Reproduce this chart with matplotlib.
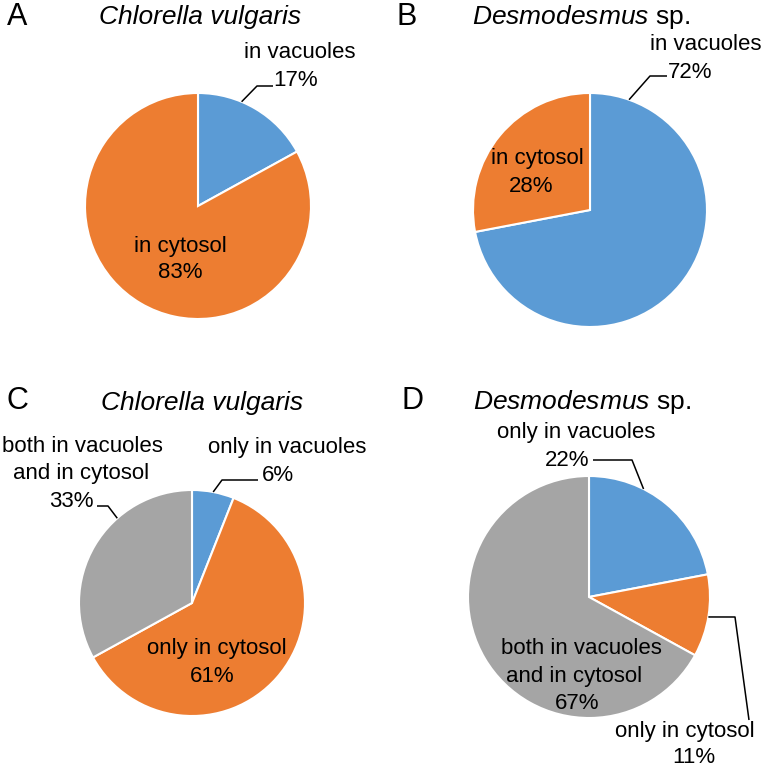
import numpy as np
import matplotlib
matplotlib.use("Agg")
import matplotlib.pyplot as plt

plt.rcParams['font.family'] = ['Liberation Sans', 'DejaVu Sans']
plt.rcParams['mathtext.fontset'] = 'custom'
plt.rcParams['mathtext.rm'] = 'Liberation Sans'
plt.rcParams['mathtext.it'] = 'Liberation Sans:italic'

W, H = 763, 767

# data (percent), clockwise from 12 o'clock
panels = ['A', 'B', 'C', 'D']
titles = ['Chlorella vulgaris', r'$\mathit{Desmodesmus}$ sp.',
          'Chlorella vulgaris', r'$\mathit{Desmodesmus}$ sp.']
title_italic = [True, False, True, False]
values_a = [17, 83]
values_b = [72, 28]
values_c = [6, 61, 33]
values_d = [22, 11, 67]
values = [values_a, values_b, values_c, values_d]

blue, orange, grey = '#5B9BD5', '#ED7D31', '#A5A5A5'
colors = [[blue, orange], [blue, orange], [blue, orange, grey], [blue, orange, grey]]

# layout in pixels (y from top)
centers = [(198, 206), (590, 210), (192, 603), (589, 597)]
radii = [113, 117, 113, 121]
letter_pos = [(17, 25), (407, 25), (17, 409), (412, 409)]
title_pos = [(200, 24), (581, 24), (202, 410), (582, 409)]

# label lines: (text, x center, baseline y)
labels = [
    [('in vacuoles', 300, 58), ('17%', 296, 86),
     ('in cytosol', 180, 252), ('83%', 180, 278)],
    [('in vacuoles', 706, 50), ('72%', 690, 78),
     ('in cytosol', 537, 164), ('28%', 531, 192)],
    [('both in vacuoles', 82, 452), ('and in cytosol', 81, 479), ('33%', 71, 507),
     ('only in vacuoles', 287, 453), ('6%', 278, 481),
     ('only in cytosol', 217, 654), ('61%', 212, 682)],
    [('only in vacuoles', 576, 438), ('22%', 567, 466),
     ('both in vacuoles', 581, 654), ('and in cytosol', 574, 682), ('67%', 577, 709),
     ('only in cytosol', 685, 737), ('11%', 694, 763)],
]

# leader lines: (panel index, angle on pie edge in degrees, other points)
leaders = [
    (0, 67.3, [(257, 86), (273, 86)]),
    (1, 70.5, [(650, 76), (667, 76)]),
    (2, 131.4, [(108, 506), (97, 506)]),
    (2, 79.2, [(222, 480), (258, 480)]),
    (3, 63.2, [(632, 460), (593, 460)]),
    (3, -9.5, [(735, 617), (749, 720)]),
]

fig = plt.figure(figsize=(W / 100, H / 100), dpi=100)
ax = fig.add_axes([0, 0, 1, 1])

for i in range(4):
    cx, cy = centers[i]
    ax.pie(values[i], colors=colors[i], startangle=90, counterclock=False,
           center=(cx, H - cy), radius=radii[i],
           wedgeprops=dict(edgecolor='white', linewidth=1.5))
    lx, ly = letter_pos[i]
    ax.text(lx, H - ly, panels[i], fontsize=22, ha='center', va='baseline')
    tx, ty = title_pos[i]
    ax.text(tx, H - ty, titles[i], fontsize=19, ha='center', va='baseline',
            fontstyle='italic' if title_italic[i] else 'normal')
    for txt, x, y in labels[i]:
        ax.text(x, H - y, txt, fontsize=16, ha='center', va='baseline')

for i, ang, pts in leaders:
    cx, cy = centers[i]
    r = radii[i]
    sx = cx + r * np.cos(np.radians(ang))
    sy = cy - r * np.sin(np.radians(ang))
    xs = [sx] + [p[0] for p in pts]
    ys = [H - sy] + [H - p[1] for p in pts]
    ax.plot(xs, ys, color='black', lw=1.1, solid_capstyle='butt')

ax.set_xlim(0, W)
ax.set_ylim(0, H)
ax.set_aspect('equal')
ax.axis('off')

fig.savefig('out.png', dpi=100)
